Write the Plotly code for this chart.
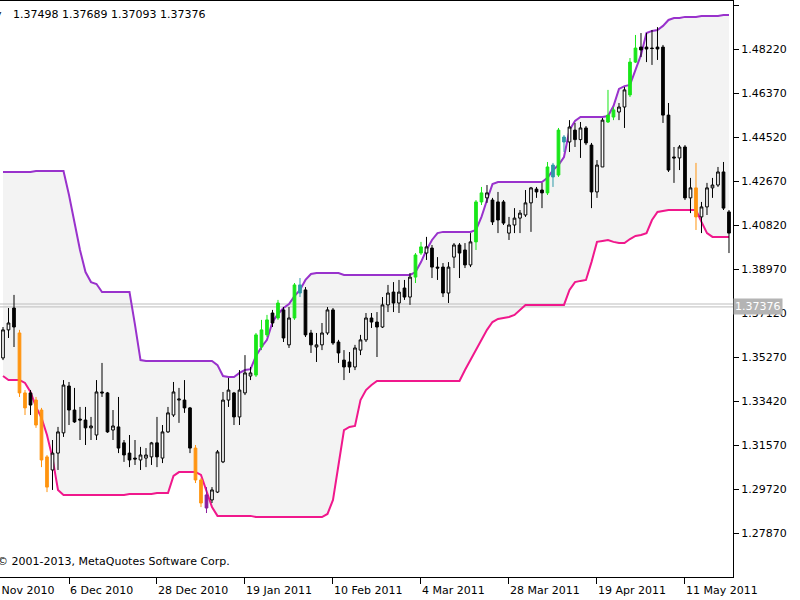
import plotly.graph_objects as go

# ---------------- data ----------------
bars = list(range(133))

open_ = [1.3523, 1.3641, 1.3733, 1.3628, 1.3376, 1.3376, 1.3346, 1.3304, 1.3107, 1.3052,
         1.3123, 1.3208, 1.3405, 1.3304, 1.3266, 1.3262, 1.3229, 1.3199, 1.3380, 1.3376,
         1.3220, 1.3233, 1.3166, 1.3123, 1.3102, 1.3094, 1.3102, 1.3107, 1.3166, 1.3102,
         1.3212, 1.3283, 1.3346, 1.3346, 1.3313, 1.3144, 1.3010, 1.2947, 1.2926, 1.2959,
         1.3086, 1.3346, 1.3376, 1.3275, 1.3376, 1.3447, 1.3451, 1.3569, 1.3620, 1.3712,
         1.3691, 1.3725, 1.3578, 1.3691, 1.3796, 1.3809, 1.3628, 1.3569, 1.3578, 1.3628,
         1.3725, 1.3590, 1.3514, 1.3506, 1.3485, 1.3556, 1.3599, 1.3691, 1.3674, 1.3653,
         1.3746, 1.3800, 1.3754, 1.3817, 1.3779, 1.3863, 1.3964, 1.3964, 1.3985, 1.3905,
         1.3905, 1.3796, 1.3947, 1.3998, 1.3977, 1.3914, 1.4011, 1.4179, 1.4196, 1.4187,
         1.4179, 1.4179, 1.4048, 1.4082, 1.4111, 1.4124, 1.4175, 1.4233, 1.4229, 1.4217,
         1.4284, 1.4292, 1.4431, 1.4431, 1.4481, 1.4441, 1.4490, 1.4418, 1.4221, 1.4326,
         1.4515, 1.4536, 1.4557, 1.4578, 1.4629, 1.4767, 1.4830, 1.4830, 1.4826, 1.4830,
         1.4830, 1.4544, 1.4368, 1.4364, 1.4410, 1.4196, 1.4238, 1.4116, 1.4158, 1.4238,
         1.4250, 1.4305, 1.4137]
high = [1.3653, 1.3733, 1.3788, 1.3641, 1.3388, 1.3388, 1.3359, 1.3313, 1.3115, 1.3178,
        1.3233, 1.3430, 1.3422, 1.3397, 1.3317, 1.3317, 1.3275, 1.3430, 1.3502, 1.3380,
        1.3304, 1.3359, 1.3178, 1.3199, 1.3178, 1.3149, 1.3144, 1.3170, 1.3275, 1.3241,
        1.3317, 1.3422, 1.3397, 1.3430, 1.3317, 1.3157, 1.3018, 1.2980, 1.2980, 1.3136,
        1.3380, 1.3439, 1.3380, 1.3472, 1.3535, 1.3485, 1.3628, 1.3683, 1.3704, 1.3725,
        1.3767, 1.3737, 1.3737, 1.3838, 1.3859, 1.3821, 1.3641, 1.3628, 1.3670, 1.3737,
        1.3733, 1.3599, 1.3556, 1.3548, 1.3578, 1.3620, 1.3712, 1.3712, 1.3716, 1.3779,
        1.3830, 1.3842, 1.3851, 1.3851, 1.3880, 1.3964, 1.4011, 1.4032, 1.3998, 1.3947,
        1.3922, 1.3926, 1.4006, 1.4006, 1.4006, 1.4048, 1.4187, 1.4242, 1.4250, 1.4196,
        1.4221, 1.4187, 1.4116, 1.4153, 1.4145, 1.4229, 1.4242, 1.4242, 1.4259, 1.4347,
        1.4343, 1.4490, 1.4460, 1.4523, 1.4511, 1.4515, 1.4498, 1.4427, 1.4355, 1.4532,
        1.4650, 1.4578, 1.4595, 1.4662, 1.4784, 1.4881, 1.4889, 1.4889, 1.4902, 1.4914,
        1.4839, 1.4595, 1.4410, 1.4418, 1.4418, 1.4280, 1.4343, 1.4179, 1.4259, 1.4280,
        1.4326, 1.4347, 1.4145]
low = [1.3514, 1.3607, 1.3569, 1.3359, 1.3283, 1.3283, 1.3229, 1.3064, 1.2959, 1.2968,
       1.3052, 1.3191, 1.3241, 1.3250, 1.3178, 1.3157, 1.3178, 1.3178, 1.3359, 1.3208,
       1.3178, 1.3123, 1.3086, 1.3064, 1.3073, 1.3052, 1.3064, 1.3073, 1.3064, 1.3081,
       1.3208, 1.3275, 1.3250, 1.3292, 1.3123, 1.2997, 1.2896, 1.2871, 1.2913, 1.2955,
       1.3081, 1.3317, 1.3241, 1.3241, 1.3367, 1.3430, 1.3443, 1.3556, 1.3611, 1.3653,
       1.3683, 1.3590, 1.3565, 1.3683, 1.3779, 1.3611, 1.3544, 1.3506, 1.3556, 1.3620,
       1.3578, 1.3502, 1.3430, 1.3460, 1.3472, 1.3535, 1.3590, 1.3649, 1.3527, 1.3649,
       1.3716, 1.3716, 1.3712, 1.3767, 1.3746, 1.3838, 1.3956, 1.3935, 1.3859, 1.3851,
       1.3779, 1.3754, 1.3901, 1.3859, 1.3901, 1.3905, 1.3977, 1.4166, 1.4175, 1.4082,
       1.4048, 1.4082, 1.4019, 1.4048, 1.4048, 1.4116, 1.4053, 1.4196, 1.4153, 1.4208,
       1.4242, 1.4284, 1.4389, 1.4389, 1.4410, 1.4364, 1.4418, 1.4153, 1.4196, 1.4326,
       1.4511, 1.4523, 1.4523, 1.4490, 1.4620, 1.4763, 1.4788, 1.4767, 1.4755, 1.4776,
       1.4511, 1.4305, 1.4259, 1.4313, 1.4187, 1.4132, 1.4061, 1.4048, 1.4124, 1.4196,
       1.4242, 1.4145, 1.3964]
close = [1.3641, 1.3670, 1.3653, 1.3376, 1.3313, 1.3325, 1.3241, 1.3094, 1.2980, 1.3123,
         1.3212, 1.3409, 1.3304, 1.3254, 1.3262, 1.3229, 1.3237, 1.3380, 1.3376, 1.3212,
         1.3237, 1.3144, 1.3115, 1.3094, 1.3098, 1.3115, 1.3115, 1.3166, 1.3107, 1.3212,
         1.3292, 1.3380, 1.3350, 1.3313, 1.3144, 1.3010, 1.2913, 1.2892, 1.2968, 1.3128,
         1.3346, 1.3388, 1.3275, 1.3388, 1.3460, 1.3460, 1.3620, 1.3641, 1.3683, 1.3670,
         1.3754, 1.3607, 1.3691, 1.3830, 1.3830, 1.3620, 1.3578, 1.3578, 1.3628, 1.3725,
         1.3586, 1.3544, 1.3485, 1.3485, 1.3565, 1.3599, 1.3691, 1.3674, 1.3653, 1.3746,
         1.3796, 1.3754, 1.3800, 1.3779, 1.3863, 1.3956, 1.3990, 1.3990, 1.3905, 1.3901,
         1.3796, 1.3905, 1.3998, 1.3964, 1.3914, 1.4011, 1.4179, 1.4217, 1.4217, 1.4095,
         1.4103, 1.4090, 1.4082, 1.4111, 1.4132, 1.4175, 1.4238, 1.4221, 1.4217, 1.4326,
         1.4334, 1.4481, 1.4452, 1.4494, 1.4441, 1.4490, 1.4427, 1.4221, 1.4334, 1.4523,
         1.4544, 1.4566, 1.4578, 1.4650, 1.4767, 1.4826, 1.4818, 1.4822, 1.4824, 1.4822,
         1.4544, 1.4313, 1.4364, 1.4410, 1.4196, 1.4238, 1.4116, 1.4158, 1.4238, 1.4250,
         1.4305, 1.4153, 1.4048]

# channel (upper / lower band)
upper = [1.4305, 1.4305, 1.4305, 1.4305, 1.4305, 1.4305, 1.4309, 1.4309, 1.4309, 1.4309,
         1.4309, 1.4309, 1.4208, 1.4095, 1.3977, 1.3884, 1.3842, 1.3834, 1.3800, 1.3800,
         1.3800, 1.3800, 1.3800, 1.3800, 1.3662, 1.3514, 1.3510, 1.3510, 1.3510, 1.3510,
         1.3510, 1.3510, 1.3510, 1.3510, 1.3510, 1.3510, 1.3510, 1.3510, 1.3510, 1.3493,
         1.3447, 1.3443, 1.3443, 1.3460, 1.3472, 1.3476, 1.3531, 1.3569, 1.3599, 1.3674,
         1.3708, 1.3733, 1.3750, 1.3783, 1.3809, 1.3851, 1.3876, 1.3880, 1.3880, 1.3880,
         1.3880, 1.3880, 1.3872, 1.3872, 1.3872, 1.3872, 1.3872, 1.3872, 1.3872, 1.3872,
         1.3872, 1.3872, 1.3872, 1.3872, 1.3872, 1.3884, 1.3926, 1.3977, 1.4019, 1.4048,
         1.4053, 1.4053, 1.4053, 1.4053, 1.4053, 1.4053, 1.4061, 1.4116, 1.4187, 1.4254,
         1.4263, 1.4263, 1.4263, 1.4263, 1.4263, 1.4263, 1.4263, 1.4263, 1.4263, 1.4280,
         1.4313, 1.4334, 1.4368, 1.4481, 1.4519, 1.4536, 1.4536, 1.4536, 1.4536, 1.4536,
         1.4540, 1.4582, 1.4654, 1.4666, 1.4671, 1.4734, 1.4797, 1.4889, 1.4898, 1.4902,
         1.4919, 1.4944, 1.4952, 1.4952, 1.4957, 1.4957, 1.4957, 1.4961, 1.4961, 1.4961,
         1.4961, 1.4965, 1.4965]
lower = [1.3447, 1.3430, 1.3430, 1.3430, 1.3418, 1.3380, 1.3317, 1.3271, 1.3199, 1.3102,
         1.2968, 1.2947, 1.2947, 1.2947, 1.2947, 1.2947, 1.2947, 1.2947, 1.2947, 1.2947,
         1.2947, 1.2947, 1.2947, 1.2951, 1.2951, 1.2951, 1.2951, 1.2951, 1.2955, 1.2955,
         1.2955, 1.3027, 1.3043, 1.3043, 1.3043, 1.3043, 1.3031, 1.2959, 1.2896, 1.2859,
         1.2859, 1.2859, 1.2859, 1.2859, 1.2859, 1.2859, 1.2854, 1.2854, 1.2854, 1.2854,
         1.2854, 1.2854, 1.2854, 1.2854, 1.2854, 1.2854, 1.2854, 1.2854, 1.2854, 1.2867,
         1.2926, 1.3073, 1.3220, 1.3233, 1.3237, 1.3346, 1.3388, 1.3409, 1.3426, 1.3426,
         1.3426, 1.3426, 1.3426, 1.3426, 1.3426, 1.3426, 1.3426, 1.3426, 1.3426, 1.3426,
         1.3426, 1.3426, 1.3426, 1.3426, 1.3472, 1.3514, 1.3556, 1.3599, 1.3641, 1.3674,
         1.3687, 1.3691, 1.3695, 1.3704, 1.3725, 1.3746, 1.3746, 1.3746, 1.3746, 1.3746,
         1.3746, 1.3746, 1.3746, 1.3809, 1.3842, 1.3847, 1.3851, 1.3926, 1.4011, 1.4015,
         1.4019, 1.4011, 1.4006, 1.4006, 1.4023, 1.4036, 1.4040, 1.4048, 1.4103, 1.4137,
         1.4141, 1.4145, 1.4145, 1.4145, 1.4145, 1.4145, 1.4145, 1.4095, 1.4048, 1.4032,
         1.4032, 1.4032, 1.4032]

green_bars = [46, 47, 48, 50, 53, 75, 76, 86, 87, 99, 101, 110, 111, 114, 115]
orange_bars = [3, 4, 6, 7, 8, 35, 36, 126]
teal_bars = [54, 100, 102]
purple_bars = [37]

tick_bars = [12, 28, 44, 60, 76, 92, 108, 124]
tick_text = ["6 Dec 2010", "28 Dec 2010", "19 Jan 2011", "10 Feb 2011",
             "4 Mar 2011", "28 Mar 2011", "19 Apr 2011", "11 May 2011"]
first_label = "12 Nov 2010"   # label of the tick just left of the visible window
price_ticks = [1.50070, 1.48220, 1.46370, 1.44520, 1.42670, 1.40820, 1.38970,
               1.37120, 1.35270, 1.33420, 1.31570, 1.29720, 1.27870]
bid = 1.37376
line2 = 1.37498
header_values = "1.37498 1.37689 1.37093 1.37376"
symbol = "EURUSD,Daily"
copyright_text = "\u00a9 2001-2013, MetaQuotes Software Corp."

y_range = [1.26020, 1.50238]
x_range = [-0.545, 132.73]

FONT = "DejaVu Sans"

fig = go.Figure()

# channel fill (base subplot)
fig.add_trace(go.Scatter(x=bars, y=upper, mode="lines", line=dict(width=0, color="#f3f3f3"),
                         hoverinfo="skip", showlegend=False))
fig.add_trace(go.Scatter(x=bars, y=lower, mode="lines", line=dict(width=0, color="#f3f3f3"),
                         fill="tonexty", fillcolor="#f3f3f3", hoverinfo="skip", showlegend=False))

# price lines
px_ = [x_range[0], x_range[1]]
fig.add_trace(go.Scatter(x=px_, y=[line2, line2], mode="lines",
                         line=dict(color="#bdbdbd", width=1), hoverinfo="skip", showlegend=False))
fig.add_trace(go.Scatter(x=px_, y=[bid, bid], mode="lines",
                         line=dict(color="#bdbdbd", width=1), hoverinfo="skip", showlegend=False))

# channel lines
fig.add_trace(go.Scatter(x=bars, y=upper, mode="lines", line=dict(color="#9932CC", width=2),
                         hoverinfo="skip", showlegend=False))
fig.add_trace(go.Scatter(x=bars, y=lower, mode="lines", line=dict(color="#F0188C", width=2),
                         hoverinfo="skip", showlegend=False))

# candles on overlay axis (drawn above the fill)
special = set(green_bars) | set(orange_bars) | set(teal_bars) | set(purple_bars)
normal_bars = [i for i in bars if i not in special]


def add_candles(idx, inc_fill, inc_line, dec_fill, dec_line):
    fig.add_trace(go.Candlestick(
        x=[bars[i] for i in idx],
        open=[open_[i] for i in idx], high=[high[i] for i in idx],
        low=[low[i] for i in idx], close=[close[i] for i in idx],
        increasing=dict(fillcolor=inc_fill, line=dict(color=inc_line, width=1)),
        decreasing=dict(fillcolor=dec_fill, line=dict(color=dec_line, width=1)),
        whiskerwidth=0, yaxis="y2", hoverinfo="skip", showlegend=False))


add_candles(normal_bars, "white", "black", "black", "black")
add_candles(green_bars, "#19e619", "#19e619", "#19e619", "#19e619")
add_candles(orange_bars, "#ff9410", "#ff9410", "#ff9410", "#ff9410")
add_candles(teal_bars, "#2f9aa8", "#2f9aa8", "#2f9aa8", "#2f9aa8")
add_candles(purple_bars, "#8a1c9c", "#8a1c9c", "#8a1c9c", "#8a1c9c")

fig.update_layout(
    width=800, height=600,
    margin=dict(l=0, r=67, t=1, b=23),
    paper_bgcolor="white", plot_bgcolor="white",
    showlegend=False,
    font=dict(family=FONT, size=11, color="black"),
    xaxis=dict(range=x_range, tickmode="array", tickvals=tick_bars, ticktext=tick_text,
               ticks="outside", ticklen=6, tickcolor="black", showline=True, linecolor="black",
               linewidth=1, mirror=True, showgrid=False, zeroline=False,
               rangeslider=dict(visible=False), ticklabelposition="outside right",
               ticklabelstandoff=3,
               tickfont=dict(family=FONT, size=11, color="black"), fixedrange=True),
    yaxis=dict(range=y_range, side="right", tickmode="array", tickvals=price_ticks,
               ticktext=[f"{v:.5f}" for v in price_ticks], ticks="outside", ticklen=5,
               tickcolor="black", showline=True, linecolor="black", linewidth=1,
               showgrid=False, zeroline=False, tickfont=dict(family=FONT, size=11, color="black"),
               fixedrange=True),
    yaxis2=dict(range=y_range, overlaying="y", visible=False, fixedrange=True),
)

fig.add_annotation(text=symbol, xref="paper", yref="paper", x=0, y=1, xanchor="right",
                   yanchor="top", xshift=4, yshift=-5, showarrow=False,
                   font=dict(family=FONT, size=11, color="black"))
fig.add_annotation(text=header_values, xref="paper", yref="paper", x=0, y=1, xanchor="left",
                   yanchor="top", xshift=11, yshift=-5, showarrow=False,
                   font=dict(family=FONT, size=11, color="black"))
fig.add_annotation(text=copyright_text, xref="paper", yref="paper", x=0, y=0, xanchor="left",
                   yanchor="middle", xshift=-5, yshift=16, showarrow=False,
                   font=dict(family=FONT, size=11, color="black"))
fig.add_annotation(text=f"{bid:.5f}", xref="paper", yref="y", x=1, y=bid, xanchor="left",
                   yanchor="middle", xshift=0, showarrow=False, bgcolor="#b4b4b4",
                   borderpad=1, font=dict(family=FONT, size=11, color="white"))
fig.add_annotation(text=first_label, xref="paper", yref="paper", x=0, y=0,
                   xanchor="left", yanchor="top", xshift=-18, yshift=-5, showarrow=False,
                   font=dict(family=FONT, size=11, color="black"))

fig.write_html("out.html")
